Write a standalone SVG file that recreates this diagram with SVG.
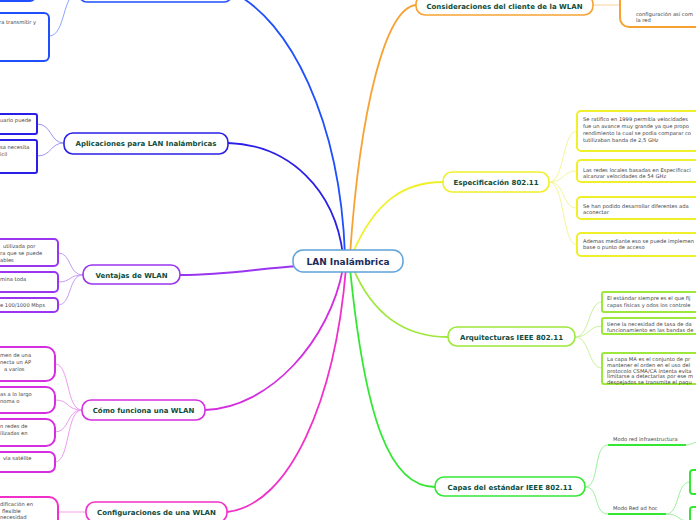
<svg xmlns="http://www.w3.org/2000/svg" width="696" height="520" viewBox="0 0 696 520">
<style>
.bg{fill:#ffffff}
.ml{fill:none;stroke-width:1.8;stroke-linecap:round}
.cl{fill:none;stroke-width:1}
.node{fill:#ffffff;stroke-width:1.6}
.box{fill:#ffffff;stroke-width:2}
.nt{font-family:"DejaVu Sans",Verdana,sans-serif;font-weight:bold;font-size:7px;fill:#0f4d3c;text-anchor:middle}
.ct{font-family:"DejaVu Sans",Verdana,sans-serif;font-weight:bold;font-size:9px;fill:#1c2b5a;text-anchor:middle}
.tx{font-family:"DejaVu Sans",Verdana,sans-serif;font-size:5.2px;fill:#444444}
.blue{stroke:#1f4fff}.blueL{stroke:#8aa4ff}
.ind{stroke:#2a1fe8}.indL{stroke:#9c95f5}
.pur{stroke:#9a35f0}.purL{stroke:#c79cf7}
.mag{stroke:#d42ee0}.magL{stroke:#ee9cf2}
.pnk{stroke:#f030c8}.pnkL{stroke:#f7a0e4}
.org{stroke:#f7a233}.orgL{stroke:#fad09a}
.yel{stroke:#f0f02a}.yelL{stroke:#f5f59a}
.lim{stroke:#9de83a}.limL{stroke:#c9f29c}
.grn{stroke:#33e833}.grnL{stroke:#9cf29c}
</style>
<rect class="bg" x="0" y="0" width="696" height="520"/>
<g id="connectors">
<path class="ml blue" d="M345,255 C340,120 290,20 232,-8"/>
<path class="ml ind" d="M343,255 C335,190 290,145 228,143"/>
<path class="ml pur" d="M180,275 C230,275 260,268 300,266"/>
<path class="ml mag" d="M205,410 C270,408 330,340 343,268"/>
<path class="ml pnk" d="M227,512 C290,505 335,400 346,268"/>
<path class="ml org" d="M350,255 C360,110 385,8 416,5"/>
<path class="ml yel" d="M352,255 C375,200 405,182 443,182"/>
<path class="ml lim" d="M353,268 C375,320 410,337 448,337"/>
<path class="ml grn" d="M350,268 C365,420 390,487 435,487"/>
<path class="cl blueL" d="M49,36 C66,36 62,-8 79,-8"/>
<path class="cl indL" d="M64,143 C50,143 52,124 37,124"/>
<path class="cl indL" d="M64,143 C50,143 52,156 37,156"/>
<path class="cl purL" d="M83,275 C68,275 72,253 58,253"/>
<path class="cl purL" d="M83,275 C68,275 72,282 58,282"/>
<path class="cl purL" d="M83,275 C68,275 72,305 58,305"/>
<path class="cl magL" d="M82,410 C66,410 70,364 55,364"/>
<path class="cl magL" d="M82,410 C66,410 70,400 55,400"/>
<path class="cl magL" d="M82,410 C66,410 70,432 55,432"/>
<path class="cl magL" d="M82,410 C66,410 70,462 55,462"/>
<path class="cl pnkL" d="M86,512 C72,512 72,512 58,512"/>
<path class="cl orgL" d="M593,5 C605,5 608,5 620,5"/>
<path class="cl yelL" d="M549,182 C565,182 562,131 577,131"/>
<path class="cl yelL" d="M549,182 C565,182 562,171 577,171"/>
<path class="cl yelL" d="M549,182 C565,182 562,208 577,208"/>
<path class="cl yelL" d="M549,182 C565,182 562,245 577,245"/>
<path class="cl limL" d="M575,337 C590,337 588,302 602,302"/>
<path class="cl limL" d="M575,337 C590,337 588,326 602,326"/>
<path class="cl limL" d="M575,337 C590,337 588,368 602,368"/>
<path class="cl grnL" d="M585,487 C600,487 593,445 608,445"/>
<path class="cl grnL" d="M585,487 C600,487 593,514 608,514"/>
<path class="cl grnL" d="M686,445 C690,445 692,443 697,442"/>
<path class="cl grnL" d="M666,514 C680,514 676,482 690,482"/>
<path class="cl grnL" d="M666,514 C680,514 676,520 690,522"/>
</g>
<g id="center">
<rect x="293" y="250" width="110" height="22" rx="10" fill="#ffffff" stroke="#5ea3d9" stroke-width="1.5"/>
<text class="ct" x="348" y="264.5">LAN Inalámbrica</text>
</g>
<g id="n-top">
<rect class="node" x="79" y="-18" width="153" height="20" rx="8" stroke="#1f4fff"/>
</g>
<g id="c-top1">
<rect class="box blue" x="-20" y="-20" width="55" height="21" rx="5"/>
</g>
<g id="c-top2">
<rect class="box blue" x="-20" y="13" width="69" height="48" rx="5"/>
<text class="tx" x="-1" y="24">ra transmitir y</text>
</g>
<g id="n-aplicaciones">
<rect class="node" x="64" y="133" width="164" height="21" rx="9" stroke="#2a1fe8"/>
<text class="nt" x="146" y="146">Aplicaciones para LAN Inalámbricas</text>
</g>
<g id="c-apl1">
<rect class="box ind" x="-20" y="114" width="57" height="20" rx="2"/>
<text class="tx" x="0" y="122">uario puede</text>
</g>
<g id="c-apl2">
<rect class="box ind" x="-20" y="140" width="57" height="33" rx="2"/>
<text class="tx" x="0" y="149">sa necesita</text>
<text class="tx" x="0" y="156">icil</text>
</g>
<g id="n-ventajas">
<rect class="node" x="83" y="265" width="97" height="19" rx="9" stroke="#9a35f0"/>
<text class="nt" x="131.5" y="277.5">Ventajas de WLAN</text>
</g>
<g id="c-ven1">
<rect class="box pur" x="-20" y="239" width="78" height="27" rx="4"/>
<text class="tx" x="3" y="248">utilizada por</text>
<text class="tx" x="0" y="255">ra que se puede</text>
<text class="tx" x="0" y="262">ables</text>
</g>
<g id="c-ven2">
<rect class="box pur" x="-20" y="272" width="78" height="20" rx="4"/>
<text class="tx" x="0" y="281">mina toda</text>
</g>
<g id="c-ven3">
<rect class="box pur" x="-20" y="298" width="78" height="14" rx="4"/>
<text class="tx" x="0" y="307">e 100/1000 Mbps</text>
</g>
<g id="n-como">
<rect class="node" x="82" y="400" width="123" height="20" rx="9" stroke="#d42ee0"/>
<text class="nt" x="143.5" y="413">Cómo funciona una WLAN</text>
</g>
<g id="c-com1">
<rect class="box mag" x="-20" y="347" width="75" height="34" rx="9"/>
<text class="tx" x="0" y="357">men de una</text>
<text class="tx" x="0" y="364">necta un AP</text>
<text class="tx" x="4" y="371">a varios</text>
</g>
<g id="c-com2">
<rect class="box mag" x="-20" y="387" width="75" height="26" rx="9"/>
<text class="tx" x="0" y="396">as a lo largo</text>
<text class="tx" x="0" y="403">noma o</text>
</g>
<g id="c-com3">
<rect class="box mag" x="-20" y="419" width="75" height="27" rx="9"/>
<text class="tx" x="0" y="428">n redes de</text>
<text class="tx" x="0" y="435">ilizadas en</text>
</g>
<g id="c-com4">
<rect class="box mag" x="-20" y="452" width="75" height="20" rx="6"/>
<text class="tx" x="3" y="460">via satélite</text>
</g>
<g id="n-config">
<rect class="node" x="86" y="502" width="141" height="20" rx="9" stroke="#f030c8"/>
<text class="nt" x="156.5" y="515">Configuraciones de una WLAN</text>
</g>
<g id="c-con1">
<rect class="box pnk" x="-20" y="497" width="78" height="35" rx="9"/>
<text class="tx" x="0" y="506">dificación en</text>
<text class="tx" x="2" y="512.5">flexible</text>
<text class="tx" x="0" y="519">necesidad</text>
</g>
<g id="n-consideraciones">
<rect class="node" x="416" y="-5" width="177" height="20" rx="9" stroke="#f7a233"/>
<text class="nt" x="504.5" y="8.5">Consideraciones del cliente de la WLAN</text>
</g>
<g id="c-cons1">
<rect class="box org" x="620" y="-20" width="100" height="47" rx="9"/>
<text class="tx" x="636" y="16">configuración así com</text>
<text class="tx" x="636" y="22">la red</text>
</g>
<g id="n-especificacion">
<rect class="node" x="443" y="172" width="106" height="20" rx="9" stroke="#f0f02a"/>
<text class="nt" x="496" y="185">Especificación 802.11</text>
</g>
<g id="c-esp1">
<rect class="box yel" x="577" y="111" width="140" height="40" rx="4"/>
<text class="tx" x="583" y="121">Se ratifico en 1999 permitia velocidades</text>
<text class="tx" x="583" y="128">fue un avance muy grande ya que propo</text>
<text class="tx" x="583" y="135">rendimiento la cual se podia comparar co</text>
<text class="tx" x="583" y="142">tutilizaban banda de 2,5 GHz</text>
</g>
<g id="c-esp2">
<rect class="box yel" x="577" y="160" width="140" height="22" rx="4"/>
<text class="tx" x="583" y="172">Las redes locales basadas en Especificaci</text>
<text class="tx" x="583" y="178">alcanzar velocidades de 54 GHz</text>
</g>
<g id="c-esp3">
<rect class="box yel" x="577" y="197" width="140" height="22" rx="4"/>
<text class="tx" x="583" y="208">Se han podido desarrollar diferentes ada</text>
<text class="tx" x="583" y="214">aconectar</text>
</g>
<g id="c-esp4">
<rect class="box yel" x="577" y="233" width="140" height="23" rx="4"/>
<text class="tx" x="583" y="243">Ademas mediante eso se puede implemen</text>
<text class="tx" x="583" y="249">base o punto de acceso</text>
</g>
<g id="n-arquitecturas">
<rect class="node" x="448" y="327" width="127" height="19" rx="9" stroke="#9de83a"/>
<text class="nt" x="511.5" y="339.5">Arquitecturas IEEE 802.11</text>
</g>
<g id="c-arq1">
<rect class="box lim" x="602" y="292" width="120" height="20" rx="2"/>
<text class="tx" x="607" y="300">El estándar siempre es el que fij</text>
<text class="tx" x="607" y="307">capas físicas y odos los controle</text>
</g>
<g id="c-arq2">
<rect class="box lim" x="602" y="318" width="120" height="16" rx="2"/>
<text class="tx" x="607" y="326">tiene la necesidad de tasa de da</text>
<text class="tx" x="607" y="332">funcionamiento en las bandas de</text>
</g>
<g id="c-arq3">
<rect class="box lim" x="602" y="353" width="120" height="31" rx="2"/>
<text class="tx" x="607" y="361">La capa MA es el conjunto de pr</text>
<text class="tx" x="607" y="367">mantener el orden en el uso del</text>
<text class="tx" x="607" y="372.5">protocolo CSMA/CA intenta evita</text>
<text class="tx" x="607" y="378">limitarse a detectarlas por ese m</text>
<text class="tx" x="607" y="383.5">despejados se transmite el paqu</text>
</g>
<g id="n-capas">
<rect class="node" x="435" y="477" width="150" height="19" rx="9" stroke="#33e833"/>
<text class="nt" x="510" y="489.5">Capas del estándar IEEE 802.11</text>
</g>
<g id="c-cap1">
<line x1="608" y1="445" x2="686" y2="445" stroke="#33e833" stroke-width="2"/>
<text class="tx" x="613" y="441" font-size="5.4">Modo red infraestructura</text>
</g>
<g id="c-cap2">
<line x1="608" y1="514" x2="666" y2="514" stroke="#33e833" stroke-width="2"/>
<text class="tx" x="613" y="510" font-size="5.4">Modo Red ad hoc</text>
</g>
<g id="c-adhoc1">
<rect class="box grn" x="690" y="470" width="30" height="24" rx="3"/>
</g>
<g id="c-adhoc2">
<rect class="box grn" x="690" y="507" width="30" height="25" rx="3"/>
</g>
</svg>
